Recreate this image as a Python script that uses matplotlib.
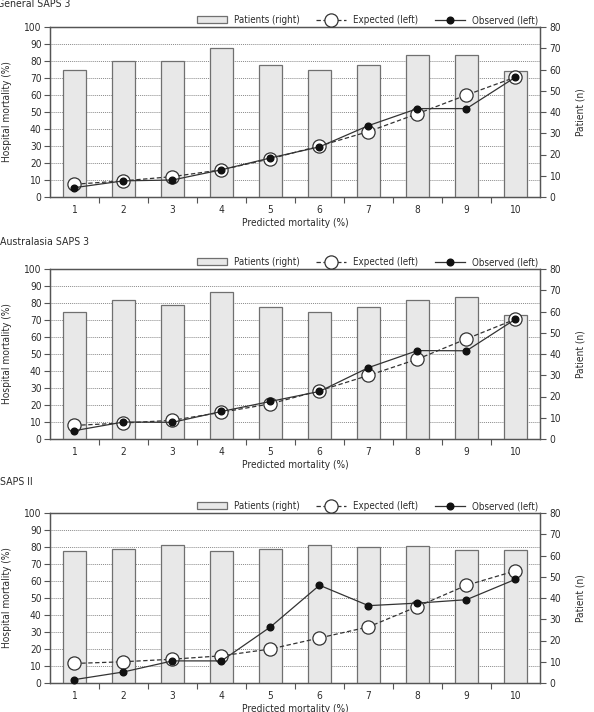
import numpy as np
import matplotlib
matplotlib.use('Agg')
import matplotlib.pyplot as plt
from matplotlib.patches import Patch
from matplotlib.lines import Line2D

# condensed DejaVu is the closest to the narrow face of the original
plt.rcParams['font.family'] = ['DejaVu Sans']
plt.rcParams['font.stretch'] = 'condensed'

TEXT = '#2b2b2b'
LINE = '#333333'
SPINE = '#555555'
FS = 7.3

#
# data
#
deciles = list(range(1, 11))
titles = ['General SAPS 3', 'Australasia SAPS 3', 'SAPS II']

patients_general = [60, 64, 64, 70, 62, 60, 62, 66.8, 66.8, 59.2]
expected_general = [7.5, 9.5, 12, 16, 22.5, 30, 38.5, 49, 60, 70.5]
observed_general = [5.5, 9.5, 10, 16, 23, 29.5, 42, 52, 52, 70.5]

patients_austral = [59.7, 65.4, 63, 69.2, 62, 60, 62, 65.3, 66.9, 58.4]
expected_austral = [8, 9.4, 11, 15.7, 20.7, 28.4, 37.4, 47, 58.9, 70.5]
observed_austral = [4.9, 10, 9.8, 16.2, 22.1, 28, 42, 52, 51.9, 70.5]

patients_saps2 = [62.2, 63, 65, 62.2, 62.9, 65, 64.2, 64.4, 62.8, 62.4]
expected_saps2 = [11.5, 12.5, 14, 16, 20, 26.5, 33, 45, 57.5, 66]
observed_saps2 = [2, 6.5, 13, 13, 33, 57.5, 45.5, 47, 49, 61]

panels = [
    (patients_general, expected_general, observed_general),
    (patients_austral, expected_austral, observed_austral),
    (patients_saps2, expected_saps2, observed_saps2),
]

W, H = 594, 712
fig = plt.figure(figsize=(W / 100, H / 100), dpi=100)

axes_tops = [27, 269, 513]   # pixel row of the 100 line
title_rows = [4, 242, 482]
title_cols = [-3, 0, 0]
AX_LEFT, AX_W, AX_H = 50, 490, 170


def draw_panel(top, title_row, title_col, title, patients, expected, observed):
    ax = fig.add_axes([AX_LEFT / W, 1 - (top + AX_H) / H, AX_W / W, AX_H / H])
    ax2 = ax.twinx()

    ax.set_xlim(0.5, 10.5)
    ax.set_ylim(0, 100)
    ax2.set_ylim(0, 80)
    ax.set_yticks(range(0, 101, 10))
    ax2.set_yticks(range(0, 81, 10))

    # dotted grid on the left scale, below the bars
    ax.yaxis.grid(True, linestyle=(0, (1, 1)), color='#8a8a8a', linewidth=0.7)
    ax.set_axisbelow(True)

    ax2.bar(deciles, patients, width=0.45, color='#e8e8e8',
            edgecolor='#707070', linewidth=0.9, zorder=1)

    # lines live in ax2 so they sit above the bars, but use the left scale
    ax2.plot(deciles, expected, transform=ax.transData, linestyle=(0, (3.5, 2)),
             color=LINE, linewidth=0.9, marker='o', markersize=9.5,
             markerfacecolor='white', markeredgecolor=LINE,
             markeredgewidth=0.9, zorder=3, clip_on=False)
    ax2.plot(deciles, observed, transform=ax.transData, linestyle='-',
             color=LINE, linewidth=0.9, marker='o', markersize=4.8,
             markerfacecolor='#111111', markeredgecolor='#111111',
             zorder=4, clip_on=False)

    # category labels in the middle, ticks between categories
    ax.set_xticks(deciles)
    ax.set_xticklabels([str(d) for d in deciles])
    ax.set_xticks(np.arange(1.5, 10.5, 1), minor=True)
    ax.tick_params(axis='x', which='major', length=0, pad=6,
                   labelsize=FS, labelcolor=TEXT)
    ax.tick_params(axis='x', which='minor', length=4, direction='out',
                   color=SPINE, width=0.8)
    ax.tick_params(axis='y', length=4, width=0.8, color=SPINE,
                   labelsize=FS, labelcolor=TEXT, pad=2)
    ax2.tick_params(axis='y', length=4, width=0.8, color=SPINE,
                    labelsize=FS, labelcolor=TEXT, pad=3)

    for a in (ax, ax2):
        for s in a.spines.values():
            s.set_color(SPINE)
            s.set_linewidth(0.9)

    ax.set_xlabel('Predicted mortality (%)', fontsize=FS, color=TEXT)
    ax.xaxis.set_label_coords(0.5, -0.125)
    ax.set_ylabel('Hospital mortality (%)', fontsize=FS, color=TEXT)
    ax.yaxis.set_label_coords(-0.078, 0.5)
    ax2.set_ylabel('Patient (n)', fontsize=FS, color=TEXT)
    ax2.yaxis.set_label_coords(1.072, 0.5)

    handles = [
        Patch(facecolor='#e8e8e8', edgecolor='#707070', linewidth=0.9),
        Line2D([], [], linestyle=(0, (3.5, 2)), color=LINE, linewidth=0.9,
               marker='o', markersize=9.5, markerfacecolor='white',
               markeredgecolor=LINE, markeredgewidth=0.9),
        Line2D([], [], linestyle='-', color=LINE, linewidth=0.9, marker='o',
               markersize=4.8, markerfacecolor='#111111',
               markeredgecolor='#111111'),
    ]
    labels = ['Patients (right)', 'Expected (left)', 'Observed (left)']
    leg = ax2.legend(handles, labels, loc='lower right',
                     bbox_to_anchor=(1.0, 1.0), ncol=3, frameon=False,
                     fontsize=7.0, handlelength=3.1, handleheight=0.7,
                     handletextpad=0.7, columnspacing=1.7, borderaxespad=0.1,
                     borderpad=0.1)
    for t in leg.get_texts():
        t.set_color(TEXT)

    fig.text(title_col / W, 1 - title_row / H, title, fontsize=7.6, color=TEXT,
             ha='left', va='center')


for top, row, col, title, (pat, exp, obs) in zip(axes_tops, title_rows, title_cols,
                                                  titles, panels):
    draw_panel(top, row, col, title, pat, exp, obs)

fig.savefig('out.png', dpi=100)
